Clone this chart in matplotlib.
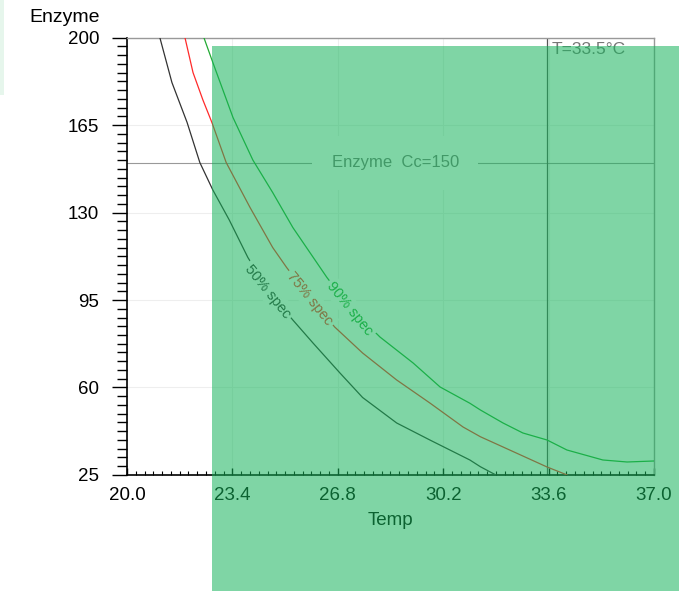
import matplotlib
matplotlib.use("Agg")
import matplotlib.pyplot as plt
from matplotlib.patches import Rectangle
from matplotlib.ticker import AutoMinorLocator

plt.rcParams["font.family"] = ["Liberation Sans", "DejaVu Sans"]

# curves (Temp, Enzyme)
t50 = [21.06, 21.45, 21.94, 22.35, 22.77, 23.3, 23.9, 24.6, 25.35, 26.0, 26.87,
       27.6, 28.7, 29.77, 31.06, 31.4, 31.9]
e50 = [200, 182, 166, 150, 139, 127, 112, 98, 87, 77.8, 65.8,
       56, 45.8, 39, 31, 28.3, 25]

t75 = [21.87, 22.13, 22.45, 22.74, 23.2, 23.97, 24.7, 25.15, 25.9, 26.7, 27.6,
       28.7, 29.77, 30.84, 31.4, 32.13, 33.55, 34.2]
e75 = [200, 186, 175, 166, 150, 132, 116, 108, 96, 84.2, 73.8,
       63, 53.8, 44.2, 40.3, 36.2, 28.2, 25]

t90 = [22.48, 22.77, 23.42, 24.06, 24.7, 25.35, 26.45, 27.2, 28.16, 29.23, 30.1,
       31.06, 31.4, 32.13, 32.77, 33.55, 34.19, 35.35, 36.13, 37.0]
e90 = [200, 190, 168, 151, 138, 124, 104, 92, 80.2, 69.8, 60.2,
       53.7, 51, 45.8, 41.8, 39, 35, 31, 30.2, 30.6]

curve_labels = ["50% spec", "75% spec", "90% spec"]
label_pos = [(24.55, 98.5), (25.9, 95.5), (27.2, 91.5)]
colors = ["#333333", "#ff2a2a", "#22aa33"]

x_ticks = [20.0, 23.4, 26.8, 30.2, 33.6, 37.0]
y_ticks = [25, 60, 95, 130, 165, 200]

cc_level = 150
t_level = 33.55

fig = plt.figure(figsize=(6.79, 5.91), dpi=100)
ax = fig.add_axes([0.187, 0.1963, 0.7762, 0.7402])

ax.set_xlim(20.0, 37.0)
ax.set_ylim(25, 200)
ax.set_xticks(x_ticks)
ax.set_xticklabels([f"{v:.1f}" for v in x_ticks])
ax.set_yticks(y_ticks)
ax.xaxis.set_minor_locator(AutoMinorLocator(12))
ax.yaxis.set_minor_locator(AutoMinorLocator(10))
ax.grid(True, which="major", color="#eeeeee", linewidth=0.8)
ax.set_axisbelow(True)

ax.tick_params(axis="y", which="major", direction="out", length=11, width=1,
               labelsize=13.5, pad=9)
ax.tick_params(axis="y", which="minor", direction="out", length=7, width=1)
ax.tick_params(axis="x", which="major", direction="in", length=5, width=1,
               labelsize=13.5, pad=8.5)
ax.tick_params(axis="x", which="minor", direction="in", length=3, width=0.8)

for side in ["left", "bottom"]:
    ax.spines[side].set_color("black")
    ax.spines[side].set_linewidth(1.2)
for side in ["top", "right"]:
    ax.spines[side].set_color("#999999")
    ax.spines[side].set_linewidth(1.0)

ax.set_xlabel("Temp", fontsize=13.5, labelpad=6)
fig.text(100 / 679, 1 - 18 / 591, "Enzyme", ha="right", va="center", fontsize=14)

# reference lines
ax.axhline(cc_level, color="#999999", linewidth=0.8, zorder=2)
ax.axvline(t_level, color="#555555", linewidth=0.9, zorder=2)
ax.text(28.65, cc_level, "Enzyme  Cc=150", fontsize=12, color="#777777",
        ha="center", va="center", zorder=3,
        bbox=dict(facecolor="white", edgecolor="none", pad=14))
ax.text(33.71, 198.2, "T=33.5°C", fontsize=12.5, color="#777777",
        ha="left", va="top", zorder=3)

for xs, ys, c in zip([t50, t75, t90], [e50, e75, e90], colors):
    ax.plot(xs, ys, color=c, linewidth=0.9, zorder=4)

for lab, (lx, ly), c in zip(curve_labels, label_pos, colors):
    ax.text(lx, ly, lab, fontsize=10.5, color=c, rotation=-51,
            ha="center", va="center", rotation_mode="anchor", zorder=5,
            bbox=dict(facecolor="white", edgecolor="none", pad=2))

# translucent green overlay over the right part of the picture
fig.add_artist(Rectangle((211.7 / 679, 0), 1 - 211.7 / 679, 1 - 46 / 591,
                         transform=fig.transFigure, facecolor=(22 / 255, 180 / 255, 91 / 255),
                         alpha=0.55, edgecolor="none", zorder=100))
fig.add_artist(Rectangle((0, 1 - 95 / 591), 4 / 679, 95 / 591,
                         transform=fig.transFigure, facecolor="#e6f6ec",
                         edgecolor="none", zorder=100))

fig.savefig("out.png", dpi=100)
